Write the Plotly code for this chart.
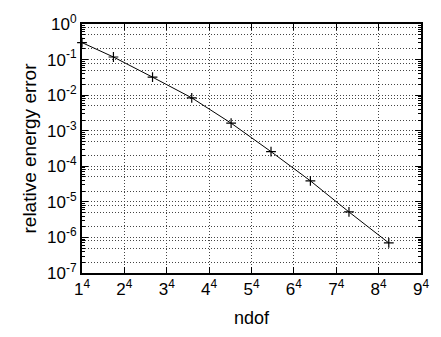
import numpy as np
import plotly.graph_objects as go

# data
ndof = [1, 9.2, 50.4, 166, 417, 889, 1667, 2840, 4610]
rel_err = [0.30, 0.118, 0.032, 0.0084, 1.63e-3, 2.58e-4, 3.9e-5, 5.2e-6, 7.0e-7]

x_tick_bases = [1, 2, 3, 4, 5, 6, 7, 8, 9]
x_tick_text = [f"{b}<sup>4</sup>" for b in x_tick_bases]
y_exps = [-7, -6, -5, -4, -3, -2, -1, 0]
y_tick_text = [f"10<sup>{e}</sup>" for e in y_exps]

xq = [v ** 0.25 for v in ndof]

FONT = "Liberation Sans, Arial, Helvetica, sans-serif"
GRID = "#444"
DOT = "1px,2px"

fig = go.Figure()
# invisible copy so the secondary grid axis is drawn
fig.add_trace(go.Scatter(
    x=xq, y=rel_err, yaxis="y2", mode="lines",
    line=dict(color="rgba(0,0,0,0)", width=0),
    hoverinfo="skip", showlegend=False,
))
fig.add_trace(go.Scatter(
    x=xq, y=rel_err, mode="lines+markers",
    line=dict(color="black", width=1),
    marker=dict(symbol="cross-thin", size=7, line=dict(color="black", width=1.2)),
    cliponaxis=False, showlegend=False,
))

minor_vals = [m * 10.0 ** e for e in y_exps[:-1] for m in range(2, 10)]
grid_vals = [m * 10.0 ** e for e in y_exps[:-1] for m in (2, 5, 8)]

fig.update_layout(
    width=441, height=337,
    margin=dict(l=82, r=13, t=13, b=62),
    paper_bgcolor="white", plot_bgcolor="white",
    font=dict(family=FONT, size=17, color="black"),
    xaxis=dict(
        range=[1, 9], tickvals=x_tick_bases, ticktext=x_tick_text,
        ticks="inside", ticklen=6, tickwidth=1, tickcolor="black",
        showline=True, linewidth=2, linecolor="black", mirror="ticks",
        showgrid=True, gridcolor=GRID, gridwidth=1, griddash=DOT,
        zeroline=False,
        title=dict(text="ndof", font=dict(size=18), standoff=13),
    ),
    yaxis=dict(
        type="log", range=[-7, 0],
        tickvals=[10.0 ** e for e in y_exps], ticktext=y_tick_text,
        ticks="inside", ticklen=6, tickwidth=1, tickcolor="black",
        showline=True, linewidth=2, linecolor="black", mirror="ticks",
        showgrid=True, gridcolor=GRID, gridwidth=1, griddash=DOT,
        zeroline=False,
        minor=dict(tickvals=minor_vals, ticks="inside", ticklen=3,
                   tickcolor="black", showgrid=False),
        title=dict(text="relative energy error", font=dict(size=19), standoff=5),
    ),
    yaxis2=dict(
        type="log", range=[-7, 0], overlaying="y", side="left",
        tickvals=grid_vals, showticklabels=False, ticks="",
        showgrid=True, gridcolor=GRID, gridwidth=1, griddash=DOT,
        showline=False, zeroline=False,
    ),
)

fig.write_html("out.html")
